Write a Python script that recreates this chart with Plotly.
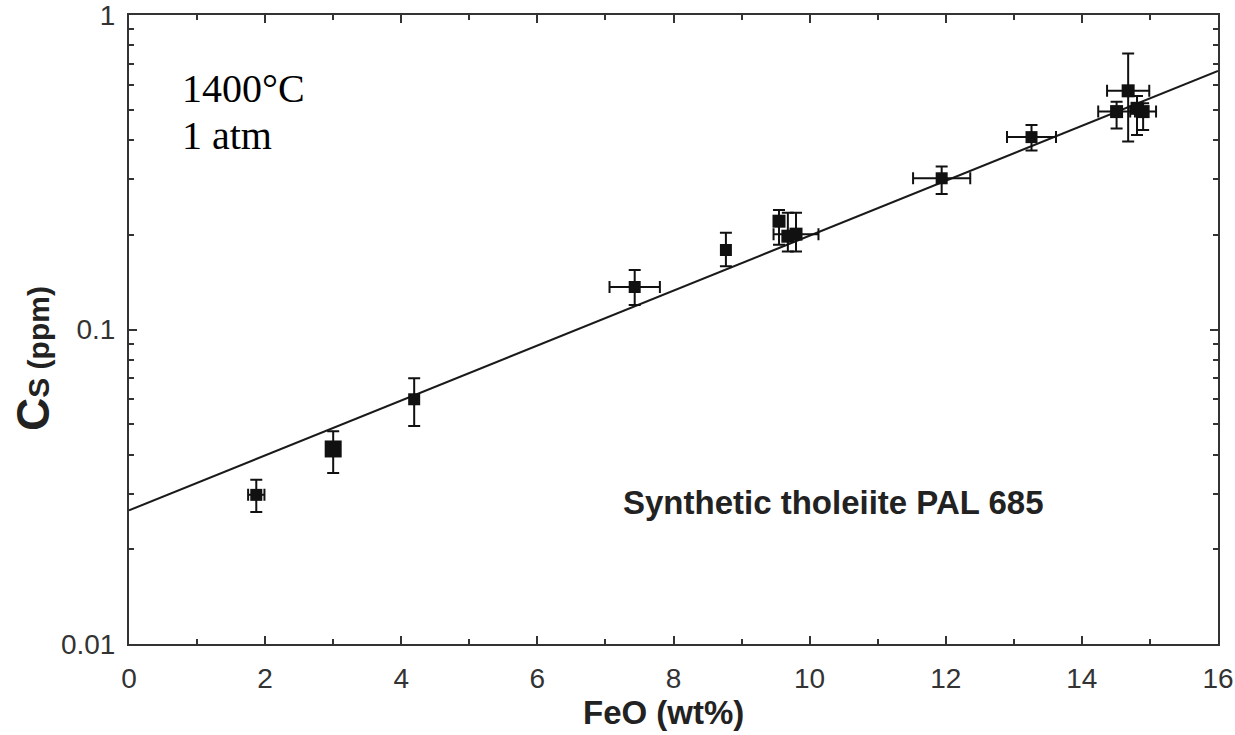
import plotly.graph_objects as go

# Data
feo = [1.87, 3.00, 4.19, 7.43, 8.77, 9.55, 9.68, 9.80, 11.94, 13.26, 14.51, 14.68, 14.81, 14.90]
cs = [0.0298, 0.0417, 0.060, 0.1365, 0.179, 0.221, 0.198, 0.201, 0.3026, 0.409, 0.493, 0.574, 0.505, 0.493]
cs_err_plus = [0.0035, 0.0058, 0.010, 0.018, 0.024, 0.019, 0.037, 0.034, 0.027, 0.038, 0.037, 0.181, 0.048, 0.031]
cs_err_minus = [0.0035, 0.0067, 0.0107, 0.0168, 0.020, 0.035, 0.021, 0.024, 0.033, 0.038, 0.057, 0.178, 0.090, 0.062]
feo_err = [0.12, 0.0, 0.0, 0.37, 0.0, 0.0, 0.0, 0.33, 0.42, 0.36, 0.27, 0.31, 0.0, 0.19]
marker_sizes = [12, 17, 12, 12, 12, 13, 13, 13, 12, 12, 13, 13, 13, 13]

fit_x = [0, 16]
fit_y = [0.0266, 0.664]

x_ticks = [0, 2, 4, 6, 8, 10, 12, 14, 16]
y_ticks = [0.01, 0.1, 1]
y_tick_text = ["0.01", "0.1", "1"]
y_minor = [0.02, 0.03, 0.04, 0.05, 0.06, 0.07, 0.08, 0.09,
           0.2, 0.3, 0.4, 0.5, 0.6, 0.7, 0.8, 0.9]

fig = go.Figure()

fig.add_trace(go.Scatter(
    x=fit_x, y=fit_y, mode="lines",
    line=dict(color="#1a1a1a", width=2),
    showlegend=False, hoverinfo="skip",
))

fig.add_trace(go.Scatter(
    x=feo, y=cs, mode="markers",
    marker=dict(symbol="square", size=marker_sizes, color="#111111", opacity=1,
                line=dict(width=0)),
    error_y=dict(type="data", symmetric=False, array=cs_err_plus, arrayminus=cs_err_minus,
                 color="#111111", thickness=2, width=6),
    error_x=dict(type="data", array=feo_err, color="#111111", thickness=2, width=6),
    showlegend=False,
))

axis_font = dict(family="Liberation Sans, Arial, sans-serif", size=28, color="#333333")

fig.update_layout(
    width=1235, height=735,
    margin=dict(l=129, r=17, t=15, b=91, autoexpand=False),
    paper_bgcolor="white", plot_bgcolor="white",
    xaxis=dict(
        range=[0, 16], tickvals=x_ticks, ticks="inside", ticklen=8, tickwidth=2,
        tickcolor="#333333", showline=True, linecolor="#333333", linewidth=2,
        mirror="allticks", showgrid=False, zeroline=False, tickfont=axis_font,
        ticklabelstandoff=8, ticklabeloverflow="allow", automargin=False,
        minor=dict(dtick=1, tick0=0, ticks="inside", ticklen=5, tickwidth=2, tickcolor="#333333"),
    ),
    yaxis=dict(
        type="log", range=[-2, 0], tickvals=y_ticks, ticktext=y_tick_text,
        ticks="inside", ticklen=8, tickwidth=2, tickcolor="#333333",
        showline=True, linecolor="#333333", linewidth=2, mirror="allticks",
        showgrid=False, zeroline=False, tickfont=axis_font, ticklabelstandoff=6,
        ticklabeloverflow="allow", automargin=False,
        minor=dict(tickvals=y_minor, ticks="inside", ticklen=5, tickwidth=2, tickcolor="#333333"),
    ),
    annotations=[
        dict(text="1400°C", xref="paper", yref="paper", x=0.047, y=(735 - 91 - 88) / 629,
             xanchor="left", yanchor="middle", showarrow=False,
             font=dict(family="Liberation Serif, Times New Roman, serif", size=40, color="black")),
        dict(text="1 atm", xref="paper", yref="paper", x=0.047, y=(735 - 91 - 136) / 629,
             xanchor="left", yanchor="middle", showarrow=False,
             font=dict(family="Liberation Serif, Times New Roman, serif", size=40, color="black")),
        dict(text="<b>Synthetic tholeiite PAL 685</b>", xref="paper", yref="paper",
             x=(833 - 129) / 1089, y=(735 - 91 - 502) / 629,
             xanchor="center", yanchor="middle", showarrow=False,
             font=dict(family="Liberation Sans, Arial, sans-serif", size=33, color="#222222")),
        dict(text="<b>FeO (wt%)</b>", xref="paper", yref="paper",
             x=(663 - 129) / 1089, y=-(713 - 644) / 629,
             xanchor="center", yanchor="middle", showarrow=False,
             font=dict(family="Liberation Sans, Arial, sans-serif", size=33, color="#222222")),
        dict(text="<b><span style='font-size:46px'>C</span>S (ppm)</b>",
             xref="paper", yref="paper",
             x=-(129 - 33) / 1089, y=(644 - 359) / 629, textangle=-90,
             xanchor="center", yanchor="middle", showarrow=False,
             font=dict(family="Liberation Sans, Arial, sans-serif", size=30, color="#222222")),
    ],
)

fig.write_html("out.html")
